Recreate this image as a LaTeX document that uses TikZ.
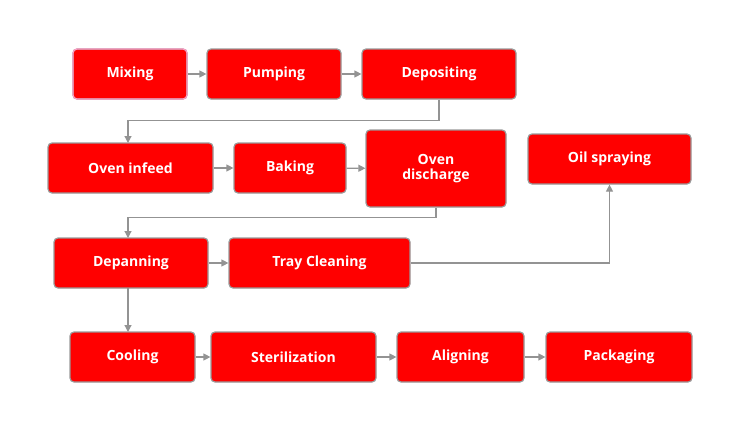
\documentclass[tikz,border=0pt]{standalone}
\usepackage{fontspec}
\setmainfont{Open Sans}
\usetikzlibrary{arrows.meta}
\begin{document}
\begin{tikzpicture}[x=1pt,y=-1pt,
 box/.style={draw=gray!80,line width=1.2pt,fill=red,rounded corners=4pt,text=white,font=\bfseries\fontsize{14}{15}\selectfont,align=center,inner sep=0pt},
 arr/.style={draw=gray!85,line width=1.2pt,-{Triangle[length=7pt,width=7pt]}}]
\useasboundingbox (0,0) rectangle (742,431);
\newcommand\bx[6]{\node[box,minimum width=#4-#2,minimum height=#5-#3] (#1) at ({(#2+#4)/2},{(#3+#5)/2}) {#6};}
\bx{mix}{73}{49}{187}{99}{Mixing}
\bx{pum}{207}{49}{341}{99}{Pumping}
\bx{dep}{362}{49}{516}{99}{Depositing}
\bx{inf}{48}{143}{213}{193}{Oven infeed}
\bx{bak}{234}{143}{346}{193}{Baking}
\bx{dis}{366}{130}{506}{207}{Oven\\discharge}
\bx{oil}{528}{134}{691}{184}{Oil spraying}
\bx{dpn}{54}{238}{208}{288}{Depanning}
\bx{tray}{229}{238}{410}{288}{Tray Cleaning}
\bx{coo}{70}{332}{195}{382}{Cooling}
\bx{ste}{211}{332}{376}{382}{Sterilization}
\bx{ali}{397}{332}{524}{382}{Aligning}
\bx{pac}{546}{332}{692}{382}{Packaging}
\node[draw=red!60!magenta!40,line width=1.2pt,rounded corners=4pt,minimum width=114pt,minimum height=50pt] at (130,74) {};
\draw[arr] (mix) -- (pum);
\draw[arr] (pum) -- (dep);
\draw[arr] (inf) -- (bak);
\draw[arr] (bak) -- (dis);
\draw[arr] (dpn) -- (tray);
\draw[arr] (coo) -- (ste);
\draw[arr] (ste) -- (ali);
\draw[arr] (ali) -- (pac);
\draw[arr] (dep.south) -- ++(0,21) -| (128,143);
\draw[arr] (dis.south) -- ++(0,10) -| (128,238);
\draw[arr] (128,288) -- (128,332);
\draw[arr] (tray.east) -| (oil.south);
\end{tikzpicture}
\end{document}
